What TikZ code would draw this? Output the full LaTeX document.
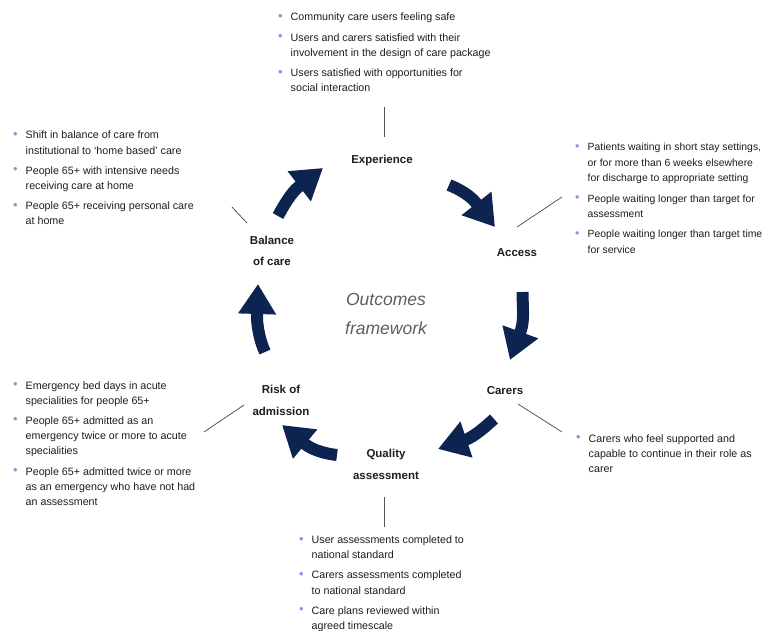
\documentclass[tikz,border=0pt]{standalone}
\usepackage{fontspec}
\setmainfont{Liberation Sans}
\usetikzlibrary{arrows.meta}
\definecolor{navy}{RGB}{13,36,80}
\definecolor{bul}{RGB}{165,135,225}
\definecolor{txt}{RGB}{30,30,30}
\definecolor{lin}{RGB}{85,85,85}
\definecolor{ofw}{RGB}{95,95,95}
\newcommand\bdot{\makebox[12.5pt][l]{\raisebox{0.5pt}{\textcolor{bul}{\scalebox{1.2}{•}}}}}
\newcommand\cont{\hspace*{12.5pt}}
\newcommand\blk[1]{\begin{tabular}[t]{@{}l@{}}#1\end{tabular}}
\tikzset{
  blist/.style={anchor=base west, inner sep=0pt, text=txt, font=\fontsize{10.7}{15.2}\selectfont},
  lab/.style={align=center, inner sep=0pt, text=txt, font=\fontsize{11.5}{21.5}\selectfont\bfseries},
  lead/.style={draw=lin, line width=0.8pt},
  cyc/.style={draw=navy, line width=12pt, -{Triangle[length=30pt,width=36pt]}},
}
\begin{document}
\begin{tikzpicture}[x=1pt,y=-1pt]
\useasboundingbox (0,0) rectangle (765,631);
\fill[white] (0,0) rectangle (765,631);

% bullet blocks
\node[blist] (ltop) at (278,21) {\blk{\bdot Community care users feeling safe\\[5pt]
\bdot Users and carers satisfied with their\\ \cont involvement in the design of care package\\[5pt]
\bdot Users satisfied with opportunities for\\ \cont social interaction}};
\node[blist, font=\fontsize{10.4}{15.4}\selectfont] (lacc) at (575,151) {\blk{\bdot Patients waiting in short stay settings,\\ \cont or for more than 6 weeks elsewhere\\ \cont for discharge to appropriate setting\\[5pt]
\bdot People waiting longer than target for\\ \cont assessment\\[5pt]
\bdot People waiting longer than target time\\ \cont for service}};
\node[blist] (lbal) at (13,139) {\blk{\bdot Shift in balance of care from\\ \cont institutional to `home based' care\\[5pt]
\bdot People 65+ with intensive needs\\ \cont receiving care at home\\[5pt]
\bdot People 65+ receiving personal care\\ \cont at home}};
\node[blist] (lcar) at (576,442) {\blk{\bdot Carers who feel supported and\\ \cont capable to continue in their role as\\ \cont carer}};
\node[blist] (lrisk) at (13,389) {\blk{\bdot Emergency bed days in acute\\ \cont specialities for people 65+\\[5pt]
\bdot People 65+ admitted as an\\ \cont emergency twice or more to acute\\ \cont specialities\\[5pt]
\bdot People 65+ admitted twice or more\\ \cont as an emergency who have not had\\ \cont an assessment}};
\node[blist] (lqual) at (299,543.5) {\blk{\bdot User assessments completed to\\ \cont national standard\\[5pt]
\bdot Carers assessments completed\\ \cont to national standard\\[5pt]
\bdot Care plans reviewed within\\ \cont agreed timescale}};

% labels
\node[lab] (exp) at (382,161) {Experience};
\node[lab] (acc) at (517,253) {Access};
\node[lab] (car) at (505,391) {Carers};
\node[lab] (qual) at (386,464.5) {Quality\\assessment};
\node[lab] (risk) at (281,400.5) {Risk of\\admission};
\node[lab] (bal) at (272,251) {Balance\\of care};
\node[align=center, inner sep=0pt, text=ofw, font=\fontsize{17.5}{29}\selectfont\itshape] (ofwk) at (386,314) {Outcomes\\framework};

% leader lines
\coordinate (t1) at (384,107); \coordinate (t2) at (384,137);
\coordinate (a1) at (562,197); \coordinate (a2) at (517,227);
\coordinate (b1) at (232,207); \coordinate (b2) at (247,223);
\coordinate (c1) at (518,404); \coordinate (c2) at (562,432);
\coordinate (r1) at (204,432); \coordinate (r2) at (244,405);
\coordinate (q1) at (384,497); \coordinate (q2) at (384,527);
\draw[lead] (t1) -- (t2);
\draw[lead] (a1) -- (a2);
\draw[lead] (b1) -- (b2);
\draw[lead] (c1) -- (c2);
\draw[lead] (r1) -- (r2);
\draw[lead] (q2) -- (q1);

% cycle arrows: tail s, head base m, tip e
\coordinate (s1) at (278,216);   \coordinate (m1) at (299,186.5); \coordinate (e1) at (323,168);
\coordinate (s2) at (449,185);   \coordinate (m2) at (476.5,203.5); \coordinate (e2) at (495,227);
\coordinate (s3) at (522.5,292); \coordinate (m3) at (521,330);   \coordinate (e3) at (510,360);
\coordinate (s4) at (494,419);   \coordinate (m4) at (465,440);   \coordinate (e4) at (438,449);
\coordinate (s5) at (337,455);   \coordinate (m5) at (305,444);   \coordinate (e5) at (282,425);
\coordinate (s6) at (265,352);   \coordinate (m6) at (257,317);   \coordinate (e6) at (258,284);
\draw[cyc] (s1) .. controls (283,207) and (291,192.6) .. (m1) -- (e1);
\draw[cyc] (s2) .. controls (460,189.5) and (470.3,195.6) .. (m2) -- (e2);
\draw[cyc] (s3) .. controls (522.5,304) and (524.4,320.6) .. (m3) -- (e3);
\draw[cyc] (s4) .. controls (486.5,425.6) and (474.5,436.8) .. (m4) -- (e4);
\draw[cyc] (s5) .. controls (327,454) and (312.7,450.4) .. (m5) -- (e5);
\draw[cyc] (s6) .. controls (260.5,343) and (257,327) .. (m6) -- (e6);
\end{tikzpicture}
\end{document}
